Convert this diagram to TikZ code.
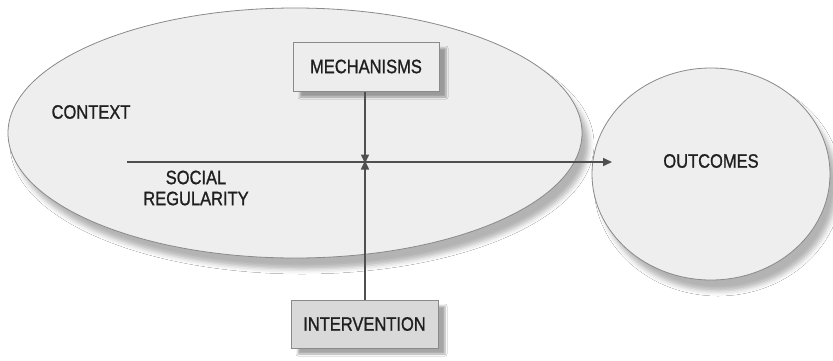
\documentclass[tikz,border=0pt]{standalone}
\usepackage{fontspec}
\setmainfont{Liberation Sans}
\newfontfamily\labelfont{Liberation Sans}[FakeBold=1.2]
\usetikzlibrary{shadows,shadows.blur,arrows.meta,shapes.geometric}
\definecolor{edge}{HTML}{8A8A8A}
\definecolor{wire}{HTML}{4F4F4F}
\definecolor{ovalfill}{HTML}{EEEEEE}
\newcommand{\tallcaps}[1]{\scalebox{0.97}[1.14]{#1}}
\tikzset{
  label text/.style={font=\labelfont\fontsize{17}{21}\selectfont, text=black!88, align=center, inner sep=0pt},
  oval/.style={draw=edge, line width=0.8pt, fill=ovalfill,
    blur shadow={shadow xshift=7pt, shadow yshift=-11pt, shadow blur radius=5pt, shadow opacity=30}},
  boxnode/.style={draw=edge, line width=1pt, fill=#1, label text,
    blur shadow={shadow xshift=7pt, shadow yshift=-6pt, shadow blur radius=2pt, shadow opacity=35}},
  link/.style={draw=wire, line width=1.5pt, -{Triangle[length=9pt,width=8pt]}},
}
\begin{document}
\begin{tikzpicture}[x=1pt,y=-1pt]
  \useasboundingbox[fill=white] (0,0) rectangle (833,360);
  % the two ovals
  \node[oval, ellipse, minimum width=574pt, minimum height=250pt, inner sep=0pt] (context) at (295,133) {};
  \node[oval, ellipse, minimum width=238pt, minimum height=212pt, inner sep=0pt] (outcomes) at (711,174) {};
  % texts inside the ovals
  \node[label text] (ctxlabel) at (91,112) {\tallcaps{CONTEXT}};
  \node[label text] (reglabel) at (196,188) {\tallcaps{SOCIAL}\\\tallcaps{REGULARITY}};
  \node[label text] (outlabel) at (711,161) {\tallcaps{OUTCOMES}};
  % boxes
  \node[boxnode=black!7, minimum width=146pt, minimum height=49pt] (mech) at (366,66.5) {\tallcaps{MECHANISMS}};
  \node[boxnode=black!15, minimum width=147pt, minimum height=48pt] (interv) at (364.5,324) {\tallcaps{INTERVENTION}};
  % connectors
  \coordinate (srcstart) at (127,162);
  \coordinate (meet) at (365,162);
  \coordinate (target) at (612,162);
  \draw[link] (srcstart) -- (target);
  \draw[link] (mech.south -| meet) -- ([yshift=-1.5pt]meet);
  \draw[link] (interv.north -| meet) -- ([yshift=1.5pt]meet);
\end{tikzpicture}
\end{document}
